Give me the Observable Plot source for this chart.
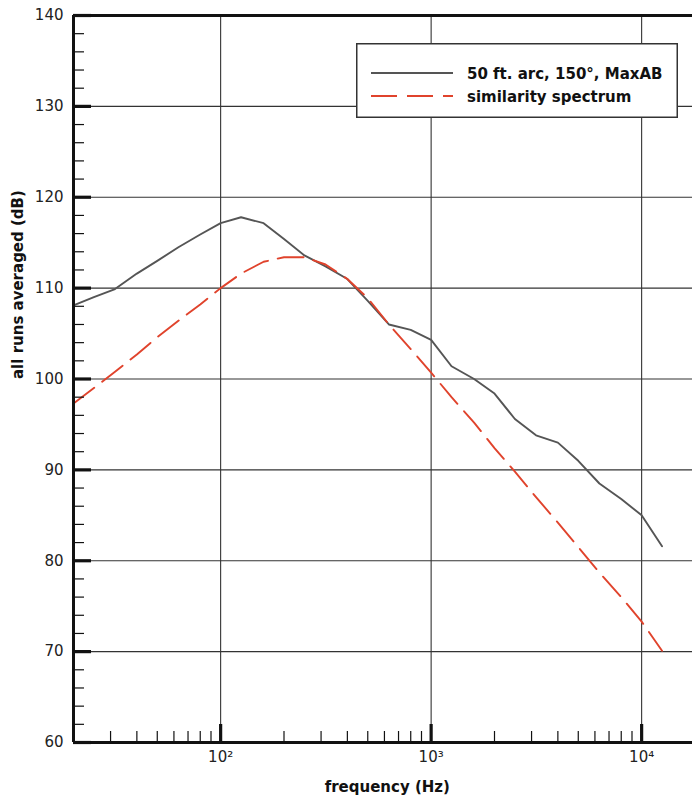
<!DOCTYPE html>
<html><head><meta charset="utf-8">
<script src="https://cdn.jsdelivr.net/npm/d3@7"></script>
<script src="https://cdn.jsdelivr.net/npm/@observablehq/plot@0.6"></script>
<style>
body{margin:0;background:#fff;overflow:hidden}
#wrap{position:relative;width:692px;height:800px;overflow:hidden}
#wrap > svg{overflow:hidden}
#legend{position:absolute;left:356px;top:43px}
</style></head><body><div id="wrap"></div>
<script>
// 1/3-octave band centre frequencies (Hz)
const bandFreqs = [20,25,31.5,40,50,63,80,100,125,160,200,250,315,400,500,630,800,1000,1250,1600,2000,2500,3150,4000,5000,6300,8000,10000,12500];
// measured: 50 ft. arc, 150°, MaxAB (dB)
const measuredDb = [108.1,109.0,109.9,111.6,113.0,114.5,115.9,117.15,117.8,117.15,115.4,113.6,112.4,111.0,108.6,106.0,105.4,104.3,101.4,100.0,98.4,95.6,93.8,93.0,91.0,88.5,86.8,85.0,81.6];
// similarity spectrum (dB)
const similarityDb = [97.3,99.0,100.8,102.7,104.6,106.4,108.2,110.0,111.6,112.9,113.4,113.4,112.6,111.0,108.9,106.0,103.3,100.7,98.0,95.2,92.4,89.8,87.0,84.2,81.5,78.7,76.0,73.3,70.1];
const seriesNames = ["50 ft. arc, 150°, MaxAB", "similarity spectrum"];
const xMajorTicks = [100, 1000, 10000];
const xMinorTicks = [30,40,50,60,70,80,90,200,300,400,500,600,700,800,900,2000,3000,4000,5000,6000,7000,8000,9000];
const xTickLabels = ["10²", "10³", "10⁴"];
const yMajorTicks = [60,70,80,90,100,110,120,130,140];
const yMinorTicks = d3.range(60, 141, 2).filter(v => v % 10 !== 0);
const yGrid = [70,80,90,100,110,120,130];
const xTitle = "frequency (Hz)";
const yTitle = "all runs averaged (dB)";

const measured = bandFreqs.map((f, i) => ({f, db: measuredDb[i]}));
const similarity = bandFreqs.map((f, i) => ({f, db: similarityDb[i]}));

const GRAY = "#555", RED = "#e0432c", INK = "#111";
const font = "DejaVu Sans";

const chart = Plot.plot({
  width: 692,
  height: 800,
  marginLeft: 73,
  marginRight: -12.5,
  marginTop: 15,
  marginBottom: 58,
  style: {fontFamily: font, fontSize: "15px", color: "#222", background: "#fff"},
  x: {type: "log", domain: [20, 20000]},
  y: {domain: [60, 140]},
  marks: [
    Plot.ruleX(xMajorTicks, {stroke: "#333", strokeWidth: 1.1}),
    Plot.ruleY(yGrid, {stroke: "#333", strokeWidth: 1.1}),
    Plot.line(measured, {x: "f", y: "db", stroke: GRAY, strokeWidth: 1.9}),
    Plot.line(similarity, {x: "f", y: "db", stroke: RED, strokeWidth: 1.9, strokeDasharray: "26,10"}),
    // inward ticks
    Plot.axisX({ticks: xMinorTicks, tickSize: -11, tickFormat: () => "", label: null, stroke: INK, strokeWidth: 1.2}),
    Plot.axisX({ticks: xMajorTicks, tickSize: -18, tickFormat: () => "", label: null, stroke: INK, strokeWidth: 3.2}),
    Plot.axisX({ticks: xMajorTicks, tickSize: 0, tickPadding: 9, tickFormat: (d) => xTickLabels[xMajorTicks.indexOf(d)], label: null}),
    Plot.axisY({ticks: yMinorTicks, tickSize: -11, tickFormat: () => "", label: null, stroke: INK, strokeWidth: 1.2}),
    Plot.axisY({ticks: yMajorTicks, tickSize: -18, tickFormat: () => "", label: null, stroke: INK, strokeWidth: 3.2}),
    Plot.axisY({ticks: yMajorTicks, tickSize: 0, tickPadding: 10, label: null}),
    // frame (left, bottom, top)
    Plot.ruleX([20], {stroke: INK, strokeWidth: 3}),
    Plot.ruleY([60, 140], {stroke: INK, strokeWidth: 3}),
    // titles
    Plot.text([xTitle], {text: d => d, frameAnchor: "bottom", dy: 45, dx: -2, lineAnchor: "middle", fontWeight: "bold", fontSize: 15, fill: "#111"}),
    Plot.text([yTitle], {text: d => d, frameAnchor: "left", dx: -55, rotate: -90, lineAnchor: "middle", fontWeight: "bold", fontSize: 15, fill: "#111"})
  ]
});
document.getElementById("wrap").appendChild(chart);

// legend
const lw = 322, lh = 75;
const leg = d3.create("svg").attr("id", "legend").attr("width", lw).attr("height", lh)
  .style("font-family", font).style("font-weight", "bold").style("font-size", "15px");
leg.append("rect").attr("x", 0.75).attr("y", 0.75).attr("width", lw - 1.5).attr("height", lh - 1.5)
  .attr("fill", "#fff").attr("stroke", "#333").attr("stroke-width", 1.5);
const styles = [{stroke: GRAY, dash: null}, {stroke: RED, dash: "26,10"}];
seriesNames.forEach((name, i) => {
  const cy = 30 + i * 23;
  leg.append("line").attr("x1", 15).attr("x2", 97).attr("y1", cy).attr("y2", cy)
    .attr("stroke", styles[i].stroke).attr("stroke-width", 1.9)
    .attr("stroke-dasharray", styles[i].dash);
  leg.append("text").attr("x", 111).attr("y", cy + 5.5).attr("fill", "#111").text(name);
});
document.getElementById("wrap").appendChild(leg.node());
</script>
</body></html>
